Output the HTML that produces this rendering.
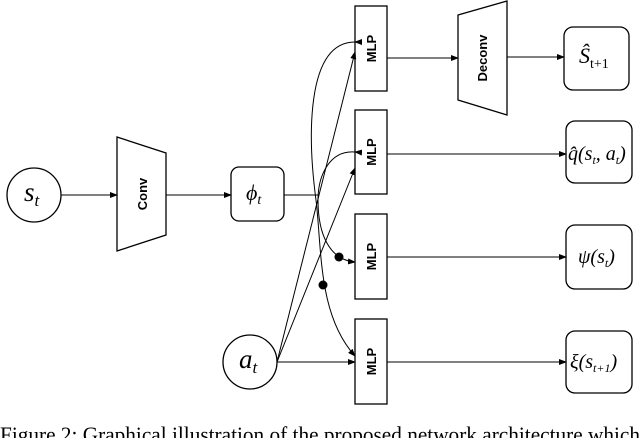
<!DOCTYPE html>
<html><head><style>
html,body{margin:0;padding:0;background:#fff;overflow:hidden}
svg{display:block}
</style></head><body>
<svg width="640" height="438" viewBox="0 0 640 438" xmlns="http://www.w3.org/2000/svg">
<defs><marker id="a" markerWidth="8" markerHeight="6" refX="7" refY="3" orient="auto" markerUnits="userSpaceOnUse"><path d="M0,0 L8,3 L0,6 z" fill="#000"/></marker></defs>
<g fill="none" stroke="#000" stroke-width="1.3">
<circle cx="34" cy="195" r="27"/>
<circle cx="250" cy="362" r="27"/>
<polygon points="117,137 166,153 166,235 117,251"/>
<polygon points="458,15 507,1 507,115 458,100"/>
<rect x="231" y="167" width="53" height="54" rx="8"/>
<rect x="355" y="6" width="32" height="85"/>
<rect x="355" y="110" width="32" height="84"/>
<rect x="355" y="214" width="32" height="85"/>
<rect x="355" y="319" width="32" height="85"/>
<rect x="564" y="27" width="65" height="63" rx="9"/>
<rect x="566" y="121" width="66" height="62" rx="9"/>
<rect x="566" y="225" width="66" height="64" rx="9"/>
<rect x="566" y="331" width="66" height="62" rx="9"/>
</g>
<g fill="none" stroke="#000" stroke-width="1" marker-end="url(#a)">
<line x1="61" y1="195" x2="117" y2="195"/>
<line x1="166" y1="195" x2="231" y2="195"/>
<line x1="387" y1="58" x2="458" y2="58"/>
<line x1="507" y1="57" x2="564" y2="57"/>
<line x1="387" y1="154" x2="566" y2="154"/>
<line x1="387" y1="257" x2="566" y2="257"/>
<line x1="387" y1="362" x2="566" y2="362"/>
<line x1="277" y1="362" x2="355" y2="362"/>
<line x1="277" y1="362" x2="355" y2="52"/>
<line x1="277" y1="362" x2="355" y2="168"/>
<path d="M316,200 C322,250 318,315 355,356"/>
<path d="M318,200 C318,235 330,260 355,262"/>
</g>
<g fill="none" stroke="#000" stroke-width="1">
<line x1="284" y1="195" x2="318" y2="195"/>
<path d="M355,42 C305,42 308,140 316,200" marker-start="url(#a)"/>
<path d="M355,152 C330,150 318,175 318,200" marker-start="url(#a)"/>
</g>
<circle cx="339" cy="257" r="4.5" fill="#000"/>
<circle cx="323" cy="285" r="4.5" fill="#000"/>
<g style="font-family:'Liberation Sans',sans-serif;font-weight:bold;font-size:13px" text-anchor="middle">
<text transform="translate(376,48.5) rotate(-90)">MLP</text>
<text transform="translate(376,152) rotate(-90)">MLP</text>
<text transform="translate(376,256.5) rotate(-90)">MLP</text>
<text transform="translate(376,361.5) rotate(-90)">MLP</text>
<text transform="translate(147,194) rotate(-90)">Conv</text>
<text transform="translate(487,58) rotate(-90)">Deconv</text>
</g>
<g style="font-family:'Liberation Serif','DejaVu Serif',serif;font-style:italic">
<text x="24" y="201" style="font-size:27px">s<tspan style="font-size:17px" dy="5">t</tspan></text>
<text x="239" y="368" style="font-size:27px">a<tspan style="font-size:17px" dy="5">t</tspan></text>
<text x="246" y="200" style="font-size:22px">ϕ<tspan style="font-size:14px" dy="4">t</tspan></text>
<text x="579" y="63" style="font-size:22px">Ŝ<tspan style="font-size:14px;font-style:normal" dy="5">t+1</tspan></text>
<text x="568" y="160" style="font-size:20px">q̂(s<tspan style="font-size:12px" dy="4">t</tspan><tspan dy="-4">, a</tspan><tspan style="font-size:12px" dy="4">t</tspan><tspan dy="-4">)</tspan></text>
<text x="578" y="263" style="font-size:20px">ψ(s<tspan style="font-size:12px" dy="4">t</tspan><tspan dy="-4">)</tspan></text>
<text x="570" y="368" style="font-size:20px">ξ(s<tspan style="font-size:12px" dy="4">t+1</tspan><tspan dy="-4">)</tspan></text>
</g>
<text x="0" y="442" style="font-family:'Liberation Serif',serif;font-size:22px" textLength="640" lengthAdjust="spacingAndGlyphs">Figure 2: Graphical illustration of the proposed network architecture which</text>
</svg>
</body></html>
